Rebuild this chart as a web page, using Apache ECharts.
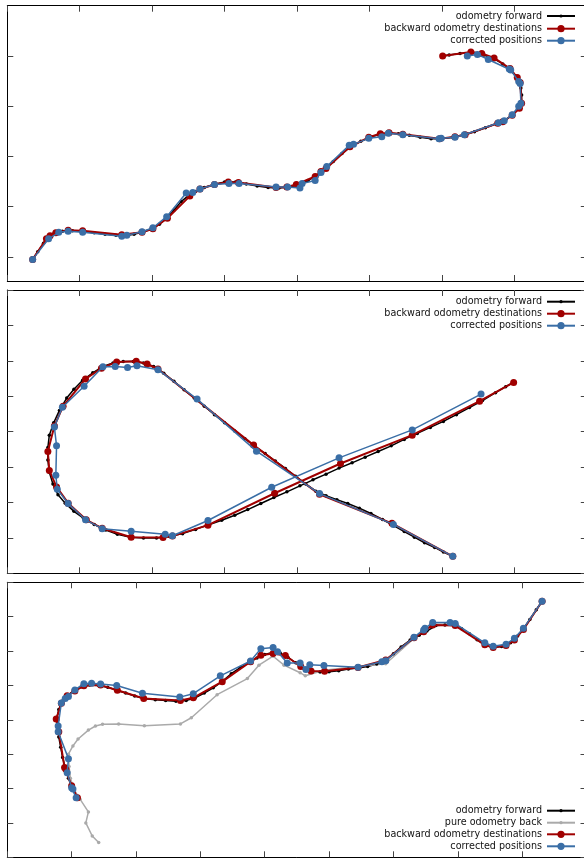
<!DOCTYPE html>
<html>
<head>
<meta charset="utf-8">
<script src="https://cdn.jsdelivr.net/npm/echarts@6/dist/echarts.min.js"></script>
<style>
  html, body { margin: 0; padding: 0; background: #fff; overflow: hidden; }
  #chart { width: 590px; height: 858px; }
</style>
</head>
<body>
<div id="chart"></div>
<script>
// values are in tick units (one tick step = 1)

// panel 1
const p1Forward = [[0.35,-0.05],[0.42,0.10],[0.50,0.27],[0.56,0.38],[0.64,0.46],[0.76,0.51],[0.90,0.52],[1.05,0.51],[1.20,0.48],[1.35,0.45],[1.50,0.43],[1.62,0.42],[1.75,0.45],[1.88,0.50],[2.00,0.56],[2.10,0.65],[2.20,0.77],[2.30,0.93],[2.40,1.10],[2.50,1.22],[2.60,1.30],[2.72,1.38],[2.85,1.44],[3.00,1.49],[3.15,1.49],[3.30,1.45],[3.45,1.41],[3.60,1.38],[3.75,1.37],[3.90,1.39],[4.02,1.43],[4.15,1.52],[4.27,1.62],[4.38,1.74],[4.50,1.90],[4.62,2.06],[4.75,2.20],[4.88,2.30],[5.00,2.38],[5.12,2.43],[5.25,2.46],[5.40,2.45],[5.55,2.42],[5.70,2.38],[5.85,2.35],[6.00,2.35],[6.15,2.38],[6.30,2.43],[6.45,2.49],[6.60,2.57],[6.75,2.65],[6.88,2.73],[6.98,2.83],[7.06,2.96],[7.10,3.08],[7.10,3.22],[7.09,3.36],[7.07,3.48],[7.02,3.60],[6.94,3.73],[6.84,3.84],[6.72,3.94],[6.58,4.02],[6.42,4.07],[6.25,4.05],[6.10,4.02],[6.00,4.00]];
const p1Backward = [[0.35,-0.05],[0.54,0.36],[0.59,0.42],[0.67,0.48],[0.84,0.53],[1.04,0.52],[1.58,0.44],[1.86,0.49],[2.01,0.56],[2.21,0.77],[2.52,1.21],[2.66,1.35],[2.86,1.44],[3.05,1.49],[3.19,1.48],[3.71,1.38],[3.86,1.39],[3.99,1.44],[4.25,1.60],[4.33,1.70],[4.40,1.76],[4.73,2.19],[4.99,2.38],[5.15,2.45],[5.27,2.47],[5.46,2.44],[5.97,2.35],[6.18,2.39],[6.32,2.43],[6.77,2.66],[6.84,2.69],[6.97,2.82],[7.07,2.96],[7.10,3.06],[7.08,3.47],[7.04,3.57],[6.94,3.75],[6.72,3.96],[6.55,4.05],[6.40,4.08],[6.01,4.00]];
const p1Corrected = [[0.35,-0.05],[0.57,0.36],[0.71,0.49],[0.84,0.51],[1.04,0.49],[1.58,0.41],[1.65,0.43],[1.86,0.50],[2.01,0.58],[2.20,0.80],[2.47,1.27],[2.56,1.28],[2.66,1.35],[2.86,1.44],[3.06,1.46],[3.20,1.46],[3.71,1.39],[3.87,1.39],[4.04,1.37],[4.07,1.46],[4.25,1.52],[4.33,1.68],[4.41,1.80],[4.72,2.22],[4.78,2.24],[4.99,2.36],[5.17,2.39],[5.26,2.46],[5.46,2.43],[5.96,2.35],[5.99,2.36],[6.18,2.38],[6.31,2.43],[6.78,2.67],[6.86,2.71],[6.97,2.83],[7.06,3.00],[7.09,3.06],[7.08,3.45],[7.06,3.49],[6.95,3.72],[6.93,3.74],[6.64,3.93],[6.49,4.03],[6.35,4.00]];

// panel 2
const p2Forward = [[6.15,0.48],[6.02,0.60],[5.90,0.73],[5.76,0.86],[5.62,1.02],[5.48,1.18],[5.34,1.34],[5.18,1.52],[5.02,1.69],[4.86,1.84],[4.70,1.97],[4.55,2.08],[4.40,2.19],[4.26,2.32],[4.12,2.52],[3.98,2.74],[3.84,2.96],[3.70,3.17],[3.56,3.38],[3.42,3.58],[3.28,3.80],[3.14,4.02],[3.00,4.25],[2.86,4.48],[2.72,4.72],[2.58,4.95],[2.44,5.18],[2.30,5.42],[2.16,5.65],[2.02,5.84],[1.88,5.94],[1.74,5.98],[1.60,5.98],[1.46,5.94],[1.32,5.84],[1.18,5.66],[1.04,5.45],[0.92,5.20],[0.82,4.95],[0.72,4.60],[0.64,4.25],[0.58,3.90],[0.56,3.55],[0.56,3.20],[0.58,2.85],[0.63,2.52],[0.70,2.22],[0.80,1.98],[0.92,1.75],[1.05,1.56],[1.20,1.38],[1.36,1.22],[1.52,1.10],[1.70,1.02],[1.88,1.00],[2.06,1.00],[2.24,1.04],[2.42,1.12],[2.60,1.24],[2.78,1.37],[2.96,1.50],[3.14,1.64],[3.32,1.80],[3.50,1.97],[3.68,2.14],[3.86,2.30],[4.04,2.47],[4.22,2.64],[4.40,2.80],[4.58,2.97],[4.76,3.12],[4.94,3.28],[5.12,3.44],[5.30,3.60],[5.48,3.78],[5.66,3.95],[5.84,4.12],[6.02,4.29],[6.20,4.48],[6.38,4.68],[6.56,4.88],[6.74,5.10],[6.88,5.27],[6.99,5.39]];
const p2Backward = [[6.15,0.48],[5.31,1.41],[4.31,2.23],[3.40,3.62],[2.08,5.77],[1.93,5.91],[1.78,5.99],[1.51,5.97],[1.30,5.79],[1.08,5.49],[0.77,4.72],[0.65,4.16],[0.56,3.44],[0.58,2.90],[0.68,2.44],[0.84,1.98],[1.09,1.51],[1.31,1.27],[1.71,1.02],[2.15,1.01],[2.28,1.05],[2.77,1.36],[3.69,2.26],[4.60,3.10],[5.59,3.90],[6.52,4.86],[6.99,5.39]];
const p2Corrected = [[6.15,0.48],[5.33,1.38],[4.31,2.25],[3.44,3.45],[2.62,4.92],[2.08,5.75],[1.79,5.86],[1.66,5.81],[1.49,5.84],[1.32,5.83],[1.06,5.28],[0.76,4.69],[0.65,4.13],[0.68,3.60],[0.67,2.77],[0.69,2.37],[0.84,1.97],[1.08,1.51],[1.31,1.26],[1.71,1.19],[2.18,1.10],[2.28,1.06],[2.77,1.49],[3.65,2.43],[4.58,3.26],[5.59,4.05],[6.54,5.06]];

// panel 3
const p3Forward = [[8.31,7.45],[8.22,7.20],[8.12,6.92],[8.03,6.66],[7.93,6.44],[7.82,6.24],[7.68,6.13],[7.55,6.10],[7.42,6.17],[7.30,6.33],[7.18,6.50],[7.06,6.65],[6.94,6.74],[6.80,6.76],[6.66,6.74],[6.52,6.58],[6.40,6.46],[6.26,6.32],[6.12,6.12],[6.00,5.92],[5.88,5.74],[5.74,5.62],[5.60,5.55],[5.45,5.51],[5.30,5.48],[5.15,5.43],[5.00,5.40],[4.86,5.39],[4.72,5.40],[4.60,5.50],[4.48,5.66],[4.36,5.82],[4.24,5.94],[4.12,5.96],[4.00,5.90],[3.88,5.80],[3.76,5.67],[3.62,5.52],[3.48,5.34],[3.34,5.12],[3.20,4.93],[3.06,4.78],[2.92,4.64],[2.78,4.56],[2.62,4.54],[2.46,4.56],[2.30,4.58],[2.14,4.61],[1.98,4.69],[1.84,4.78],[1.70,4.86],[1.56,4.95],[1.42,5.00],[1.28,5.01],[1.16,4.96],[1.04,4.85],[0.94,4.72],[0.86,4.55],[0.80,4.30],[0.77,4.05],[0.78,3.80],[0.80,3.50],[0.83,3.20],[0.86,2.90],[0.90,2.60],[0.95,2.30],[1.01,2.02],[1.08,1.73]];
const p3PureBack = [[8.31,7.45],[8.02,6.64],[7.88,6.34],[7.75,6.18],[7.55,6.12],[7.42,6.21],[6.96,6.77],[6.61,6.79],[6.47,6.58],[6.32,6.37],[5.88,5.63],[5.45,5.55],[4.92,5.44],[4.63,5.28],[4.55,5.37],[4.30,5.59],[4.13,5.85],[3.91,5.59],[3.73,5.20],[3.26,4.73],[2.86,4.06],[2.69,3.88],[2.13,3.83],[1.73,3.88],[1.48,3.87],[1.37,3.82],[1.26,3.70],[1.10,3.44],[1.02,3.24],[0.95,3.00],[0.96,2.64],[0.98,2.30],[1.04,1.96],[1.13,1.69],[1.26,1.32],[1.22,1.00],[1.32,0.62],[1.42,0.43]];
const p3Backward = [[8.31,7.45],[8.02,6.63],[7.88,6.32],[7.75,6.16],[7.55,6.10],[7.42,6.18],[6.96,6.74],[6.61,6.76],[6.47,6.56],[6.32,6.39],[5.88,5.74],[5.45,5.52],[4.93,5.41],[4.72,5.42],[4.56,5.55],[4.32,5.87],[4.13,5.93],[3.94,5.88],[3.78,5.69],[3.34,5.11],[2.89,4.64],[2.69,4.56],[2.12,4.62],[1.71,4.86],[1.45,5.01],[1.19,4.99],[1.05,4.84],[0.93,4.70],[0.84,4.48],[0.76,4.02],[0.80,3.65],[0.89,2.61],[0.91,2.56],[1.00,2.08],[1.09,1.73]];
const p3Corrected = [[8.31,7.45],[8.02,6.66],[7.88,6.37],[7.75,6.20],[7.55,6.14],[7.42,6.24],[6.96,6.80],[6.88,6.83],[6.61,6.83],[6.49,6.66],[6.47,6.61],[6.32,6.40],[5.88,5.72],[5.82,5.69],[5.45,5.53],[4.92,5.58],[4.70,5.60],[4.64,5.46],[4.55,5.65],[4.35,5.65],[4.20,5.98],[4.13,6.10],[3.94,6.07],[3.78,5.71],[3.31,5.28],[2.89,4.76],[2.68,4.66],[2.10,4.77],[1.70,5.00],[1.45,5.04],[1.31,5.06],[1.19,5.05],[1.05,4.87],[0.95,4.68],[0.90,4.62],[0.84,4.49],[0.79,3.82],[0.79,3.65],[0.95,2.87],[0.93,2.46],[1.00,2.02],[1.02,1.99],[1.07,1.73]];

// axis ranges per panel [xMin, xMax, yMin, yMax]
const ranges = [[0, 8, -0.48, 5], [0, 8, 0, 8], [0, 9, 0, 8]];
const yTicks = [[0, 1, 2, 3, 4], null, null];

const BLACK = '#000000';
const GRAY = '#aaaaaa';
const RED = '#a00000';
const BLUE = '#3a6ea6';

const grids = [
  { left: 7.3, top: 5.7, width: 579.5, height: 275.3 },
  { left: 7.3, top: 290, width: 579.5, height: 283.3 },
  { left: 7.3, top: 582.3, width: 579.2, height: 275 }
];

function makeAxis (g, position, min, max, customTicks) {
  const axis = {
    type: 'value',
    gridIndex: g,
    position: position,
    min: min,
    max: max,
    axisLine: { show: true, onZero: false, lineStyle: { color: '#000', width: 1 } },
    axisTick: { show: true, inside: true, length: 6, lineStyle: { color: '#444', width: 1 } },
    axisLabel: { show: false },
    splitLine: { show: false }
  };
  if (customTicks) {
    axis.axisTick.customValues = customTicks;
  } else {
    axis.interval = 1;
  }
  return axis;
}

const xAxis = [];
const yAxis = [];
ranges.forEach((r, g) => {
  xAxis.push(makeAxis(g, 'bottom', r[0], r[1]));
  xAxis.push(makeAxis(g, 'top', r[0], r[1]));
  yAxis.push(makeAxis(g, 'left', r[2], r[3], yTicks[g]));
  yAxis.push(makeAxis(g, 'right', r[2], r[3], yTicks[g]));
});

function line (name, data, g, color, size, width, z) {
  return {
    type: 'line',
    name: name,
    data: data,
    xAxisIndex: g * 2,
    yAxisIndex: g * 2,
    symbol: 'circle',
    symbolSize: size,
    showSymbol: true,
    lineStyle: { color: color, width: width },
    itemStyle: { color: color },
    emphasis: { disabled: true },
    z: z
  };
}

const series = [
  line('odometry forward', p1Forward, 0, BLACK, 3.5, 1.5, 2),
  line('backward odometry destinations', p1Backward, 0, RED, 7, 2, 3),
  line('corrected positions', p1Corrected, 0, BLUE, 7, 1.5, 4),
  line('odometry forward', p2Forward, 1, BLACK, 3.5, 1.5, 2),
  line('backward odometry destinations', p2Backward, 1, RED, 7, 2, 3),
  line('corrected positions', p2Corrected, 1, BLUE, 7, 1.5, 4),
  line('odometry forward', p3Forward, 2, BLACK, 3.5, 1.5, 2),
  line('pure odometry back', p3PureBack, 2, GRAY, 3.5, 1.5, 2),
  line('backward odometry destinations', p3Backward, 2, RED, 7, 2, 3),
  line('corrected positions', p3Corrected, 2, BLUE, 7, 1.5, 4)
];

function legend (names, top, iconHeight) {
  return {
    data: names,
    orient: 'vertical',
    align: 'right',
    right: 14,
    top: top,
    padding: 0,
    itemGap: 0,
    itemWidth: 28,
    itemHeight: iconHeight,
    selectedMode: false,
    textStyle: { fontFamily: 'DejaVu Sans', fontSize: 9.6, color: '#111', lineHeight: 12 }
  };
}

const chart = echarts.init(document.getElementById('chart'));
chart.setOption({
  animation: false,
  backgroundColor: '#fff',
  grid: grids,
  xAxis: xAxis,
  yAxis: yAxis,
  legend: [
    legend(['odometry forward'], 10, 4),
    legend(['backward odometry destinations', 'corrected positions'], 22.7, 9),
    legend(['odometry forward'], 295.7, 4),
    legend(['backward odometry destinations', 'corrected positions'], 307.7, 9),
    legend(['odometry forward', 'pure odometry back'], 804.7, 4),
    legend(['backward odometry destinations', 'corrected positions'], 828.3, 9)
  ],
  series: series
});
</script>
</body>
</html>
